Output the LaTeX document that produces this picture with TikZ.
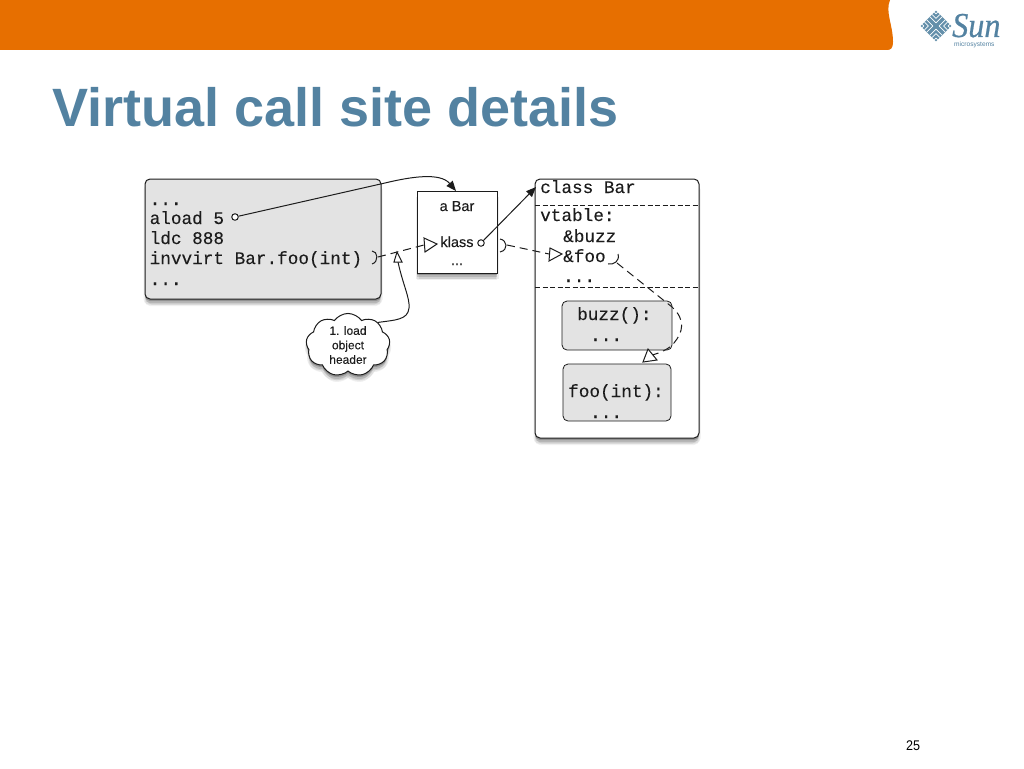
\documentclass[tikz,border=0pt]{standalone}
\usepackage{fontspec}
\setmainfont{Liberation Sans}
\newfontfamily\codefont[FakeBold=0.12]{Liberation Mono}
\newfontfamily\logofont[FakeBold=0.6]{Liberation Serif}
\newfontfamily\softsans[FakeBold=0.15]{Liberation Sans}
\usetikzlibrary{shadows,shapes.symbols,arrows.meta}
\definecolor{headorange}{HTML}{E76F00}
\definecolor{titleblue}{HTML}{5382A1}
\definecolor{boxgray}{HTML}{E3E3E3}
\definecolor{inkline}{HTML}{1C1C1C}
\tikzset{
  softshadow/.style={
    drop shadow={shadow xshift=0pt,shadow yshift=-7pt,fill=black,opacity=.06},
    drop shadow={shadow xshift=-1.5pt,shadow yshift=-5.5pt,fill=black,opacity=.07},
    drop shadow={shadow xshift=1.5pt,shadow yshift=-5.5pt,fill=black,opacity=.07},
    drop shadow={shadow xshift=0pt,shadow yshift=-4pt,fill=black,opacity=.12},
    drop shadow={shadow xshift=0pt,shadow yshift=-2pt,fill=black,opacity=.2}},
  graybox/.style={draw=inkline,line width=1pt,fill=boxgray,rounded corners=5pt},
  codetext/.style={anchor=base west,inner sep=0pt,font=\codefont\fontsize{17.7}{18}\selectfont,text=inkline},
  sanstext/.style={anchor=base,inner sep=0pt,font=\softsans\fontsize{14.5}{15}\selectfont,text=inkline},
  ball/.style={circle,draw=inkline,fill=white,line width=1pt,inner sep=0pt,minimum size=6.5pt},
  conn/.style={draw=inkline,line width=1pt},
  dashconn/.style={draw=inkline,line width=1pt,dash pattern=on 8pt off 5pt},
  tri/.style={draw=inkline,line width=1pt,fill=white,line join=miter},
  sock/.style={draw=inkline,line width=1pt},
  fillhead/.style={-{Triangle[length=10pt,width=8pt]}},
}
\begin{document}
\begin{tikzpicture}[x=1pt,y=-1pt]
\useasboundingbox (0,0) rectangle (1024,768);
% header
\fill[headorange] (0,0) -- (890,0) .. controls (885,12) and (893,25) .. (893,42) .. controls (893,48) and (891,50) .. (887,50) -- (0,50) -- cycle;
% logo
\begin{scope}[shift={(936,26)},rotate=45]
  \fill[titleblue!90] (-10.8,-10.8) rectangle (10.8,10.8);
  \foreach \k in {2.2,5.4,8.6}{
    \draw[white,line width=.8pt] (-\k,-\k) -- (-\k,-10.8);
    \draw[white,line width=.8pt] (-\k,-\k) -- (-10.8,-\k);
    \draw[white,line width=.8pt] (\k,\k) -- (\k,10.8);
    \draw[white,line width=.8pt] (\k,\k) -- (10.8,\k);
    \draw[white,line width=.8pt] (\k,-\k) -- (10.8,-\k);
    \draw[white,line width=.8pt] (\k,-\k) -- (\k,-10.8);
    \draw[white,line width=.8pt] (-\k,\k) -- (-10.8,\k);
    \draw[white,line width=.8pt] (-\k,\k) -- (-\k,10.8);
  }
\end{scope}
\node[anchor=base west,inner sep=0pt,text depth=0pt,text=titleblue,font=\logofont\itshape\fontsize{35}{35}\selectfont,xscale=.92] (sunword) at (952,37) {Sun};
\node[anchor=base west,inner sep=0pt,text=titleblue,font=\fontsize{6.6}{7}\selectfont] (micro) at (954,46) {microsystems};
% title
\node[anchor=base west,inner sep=0pt,text=titleblue,font=\bfseries\fontsize{54}{58}\selectfont] (title) at (52,126) {Virtual call site details};
\node[anchor=base,inner sep=0pt,font=\fontsize{14}{16}\selectfont,text=black,xscale=.9] (pagenum) at (913,750) {25};

% boxes
\draw[graybox,softshadow] (145,179) rectangle (381,299);
\draw[draw=inkline,line width=1pt,fill=white,softshadow] (417,191) rectangle (497,273);
\draw[draw=inkline,line width=1pt,fill=white,rounded corners=5pt,softshadow] (535,179) rectangle (699,438);
\draw[draw=inkline,line width=1pt,dash pattern=on 5pt off 2.5pt] (535,205) -- (699,205);
\draw[draw=inkline,line width=1pt,dash pattern=on 5pt off 2.5pt] (535,287) -- (699,287);
\draw[graybox,line width=.8pt] (562,301) rectangle (672,350);
\draw[graybox,line width=.8pt] (563,364) rectangle (671,421);

% code text
\node[codetext] (a1) at (149.5,205) {...};
\node[codetext] (a2) at (149.5,224) {aload 5};
\node[codetext] (a3) at (149.5,244) {ldc 888};
\node[codetext] (a4) at (149.5,264) {invvirt Bar.foo(int)};
\node[codetext] (a5) at (149.5,285) {...};
\node[codetext] (c1) at (540,193) {class Bar};
\node[codetext] (c2) at (540,221) {vtable:};
\node[codetext] (c3) at (563,242) {\&buzz};
\node[codetext] (c4) at (563,262) {\&foo};
\node[codetext] (c5) at (563,282) {...};
\node[codetext] (b1) at (577,320) {buzz():};
\node[codetext] (b2) at (590,341) {...};
\node[codetext] (f1) at (568,397) {foo(int):};
\node[codetext] (f2) at (590,418) {...};
\node[sanstext] (abar) at (457,211) {a Bar};
\node[sanstext] (klass) at (457,247) {klass};
\node[sanstext] (kdots) at (457,265) {...};

% anchors
\node[ball] (ballA) at (235,217) {};
\node[ball] (ballK) at (481,243) {};
\coordinate (barTop) at (456,191);
\coordinate (classEdge) at (536,187);
\coordinate (sockL) at (378,257);
\coordinate (triK) at (424,245);
\coordinate (sockK) at (507,245);
\coordinate (triF) at (549,254);
\coordinate (sockF) at (617,263);
\coordinate (triB) at (652,355);
\coordinate (triC) at (398,262);

% cloud
\node[cloud,cloud puffs=9,cloud puff arc=110,aspect=1.35,draw=inkline,line width=1pt,fill=white,
  minimum width=84pt,minimum height=58pt,inner sep=0pt,align=center,text=inkline,
  font=\softsans\fontsize{12}{14.5}\selectfont,softshadow] (cloudnote) at (348,345) {1. load\\object\\header};

% connectors
\draw[conn,fillhead] (ballA) -- (385,183) .. controls (410,177) and (440,172) .. (barTop);
\draw[conn,fillhead] (ballK) -- (classEdge);
\draw[dashconn] (sockL) -- (triK);
\draw[dashconn] (sockK) -- (triF);
\draw[dashconn] (sockF) -- (672,307) .. controls (686,320) and (683,332) .. (674,343) .. controls (669,349) and (660,353) .. (triB);
\draw[conn] (triC) .. controls (403,285) and (410,298) .. (409,308) .. controls (408,320) and (395,320) .. (cloudnote.north east);

% sockets
\draw[sock] (372,251) .. controls (378,251) and (379,262) .. (372,264);
\draw[sock] (500,239) .. controls (507,240) and (509,250) .. (500,252);
\draw[sock] (608,264) .. controls (614,265) and (620,261) .. (618,254);

% triangles
\draw[tri] (424,238) -- (437,244) -- (425,252) -- cycle;
\draw[tri] (550,248) -- (562,254) -- (549,261) -- cycle;
\draw[tri] (648,349) -- (657,360) -- (643,362) -- cycle;
\draw[tri] (397,252) -- (402,262) -- (394,262) -- cycle;
\end{tikzpicture}
\end{document}
